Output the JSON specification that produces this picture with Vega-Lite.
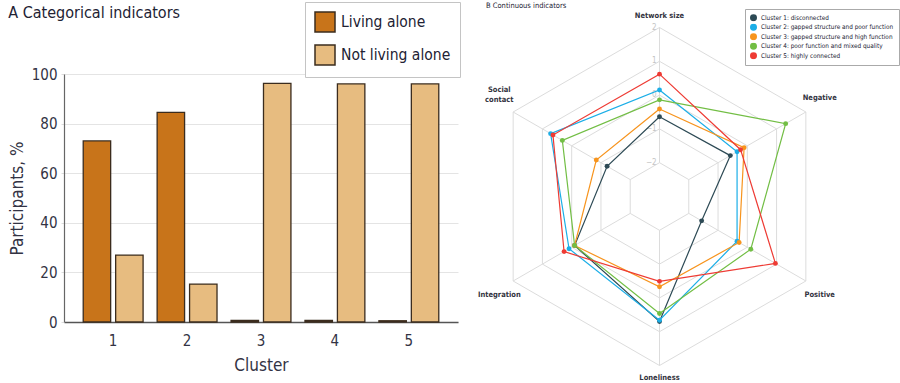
{
  "$schema": "https://vega.github.io/schema/vega-lite/v6.json",
  "background": "white",
  "padding": {"left": 8, "top": 1, "right": 0, "bottom": 0},
  "spacing": 12,
  "resolve": {"scale": {"color": "independent"}, "legend": {"color": "independent"}},
  "config": {
    "font": "DejaVu Sans Condensed, Roboto Condensed, Liberation Sans Narrow, Roboto, sans-serif",
    "view": {"stroke": null},
    "title": {"color": "#222233"}
  },
  "datasets": {
    "rings": [
      {"level": -2, "indicator": ["Network size", "Negative", "Positive", "Loneliness", "Integration", "Social contact"]},
      {"level": -1, "indicator": ["Network size", "Negative", "Positive", "Loneliness", "Integration", "Social contact"]},
      {"level": 0, "indicator": ["Network size", "Negative", "Positive", "Loneliness", "Integration", "Social contact"]},
      {"level": 1, "indicator": ["Network size", "Negative", "Positive", "Loneliness", "Integration", "Social contact"]},
      {"level": 2, "indicator": ["Network size", "Negative", "Positive", "Loneliness", "Integration", "Social contact"]}
    ],
    "axes": [
      {"indicator": "Network size", "label": "Network size"},
      {"indicator": "Negative", "label": "Negative"},
      {"indicator": "Positive", "label": "Positive"},
      {"indicator": "Loneliness", "label": "Loneliness"},
      {"indicator": "Integration", "label": "Integration"},
      {"indicator": "Social contact", "label": "Social\ncontact"}
    ],
    "radar": [
      {"cluster": "Cluster 1: disconnected", "indicator": "Network size", "value": -0.64},
      {"cluster": "Cluster 1: disconnected", "indicator": "Negative", "value": -0.58},
      {"cluster": "Cluster 1: disconnected", "indicator": "Positive", "value": -1.56},
      {"cluster": "Cluster 1: disconnected", "indicator": "Loneliness", "value": 0.7},
      {"cluster": "Cluster 1: disconnected", "indicator": "Integration", "value": -0.1},
      {"cluster": "Cluster 1: disconnected", "indicator": "Social contact", "value": -1.21},
      {"cluster": "Cluster 2: gapped structure and poor function", "indicator": "Network size", "value": 0.15},
      {"cluster": "Cluster 2: gapped structure and poor function", "indicator": "Negative", "value": -0.35},
      {"cluster": "Cluster 2: gapped structure and poor function", "indicator": "Positive", "value": -0.35},
      {"cluster": "Cluster 2: gapped structure and poor function", "indicator": "Loneliness", "value": 0.66},
      {"cluster": "Cluster 2: gapped structure and poor function", "indicator": "Integration", "value": 0.09},
      {"cluster": "Cluster 2: gapped structure and poor function", "indicator": "Social contact", "value": 0.72},
      {"cluster": "Cluster 3: gapped structure and high function", "indicator": "Network size", "value": -0.41},
      {"cluster": "Cluster 3: gapped structure and high function", "indicator": "Negative", "value": -0.11},
      {"cluster": "Cluster 3: gapped structure and high function", "indicator": "Positive", "value": -0.28},
      {"cluster": "Cluster 3: gapped structure and high function", "indicator": "Loneliness", "value": -0.33},
      {"cluster": "Cluster 3: gapped structure and high function", "indicator": "Integration", "value": -0.1},
      {"cluster": "Cluster 3: gapped structure and high function", "indicator": "Social contact", "value": -0.84},
      {"cluster": "Cluster 4: poor function and mixed quality", "indicator": "Network size", "value": -0.14},
      {"cluster": "Cluster 4: poor function and mixed quality", "indicator": "Negative", "value": 1.31},
      {"cluster": "Cluster 4: poor function and mixed quality", "indicator": "Positive", "value": 0.12},
      {"cluster": "Cluster 4: poor function and mixed quality", "indicator": "Loneliness", "value": 0.46},
      {"cluster": "Cluster 4: poor function and mixed quality", "indicator": "Integration", "value": -0.1},
      {"cluster": "Cluster 4: poor function and mixed quality", "indicator": "Social contact", "value": 0.32},
      {"cluster": "Cluster 5: highly connected", "indicator": "Network size", "value": 0.62},
      {"cluster": "Cluster 5: highly connected", "indicator": "Negative", "value": -0.23},
      {"cluster": "Cluster 5: highly connected", "indicator": "Positive", "value": 0.96},
      {"cluster": "Cluster 5: highly connected", "indicator": "Loneliness", "value": -0.49},
      {"cluster": "Cluster 5: highly connected", "indicator": "Integration", "value": 0.26},
      {"cluster": "Cluster 5: highly connected", "indicator": "Social contact", "value": 0.64}
    ]
  },
  "hconcat": [
    {
      "width": 394,
      "height": 248,
      "title": {"text": "A  Categorical indicators", "anchor": "start", "fontSize": 16, "fontWeight": "normal", "offset": -19},
      "data": {"values": [
        {"cluster": "1", "status": "Living alone", "pct": 73},
        {"cluster": "1", "status": "Not living alone", "pct": 27},
        {"cluster": "2", "status": "Living alone", "pct": 84.5},
        {"cluster": "2", "status": "Not living alone", "pct": 15.3},
        {"cluster": "3", "status": "Living alone", "pct": 0.6},
        {"cluster": "3", "status": "Not living alone", "pct": 96.2},
        {"cluster": "4", "status": "Living alone", "pct": 0.6},
        {"cluster": "4", "status": "Not living alone", "pct": 96},
        {"cluster": "5", "status": "Living alone", "pct": 0.5},
        {"cluster": "5", "status": "Not living alone", "pct": 96}
      ]},
      "mark": {"type": "bar", "stroke": "#3b2c1e", "strokeWidth": 1.3},
      "encoding": {
        "x": {
          "field": "cluster", "type": "ordinal",
          "scale": {"paddingInner": 0.19, "paddingOuter": 0.26},
          "axis": {"title": "Cluster", "labelAngle": 0, "labelFontSize": 15, "titleFontSize": 17, "titleFontWeight": "normal", "ticks": false, "labelPadding": 11, "domainColor": "#555555", "domainWidth": 1.3, "labelColor": "#333344", "titleColor": "#333344", "titlePadding": 9}
        },
        "xOffset": {"field": "status", "type": "nominal", "sort": ["Living alone", "Not living alone"], "scale": {"paddingInner": 0.154, "paddingOuter": 0}},
        "y": {
          "field": "pct", "type": "quantitative",
          "scale": {"domain": [0, 100], "nice": false},
          "axis": {"title": "Participants, %", "values": [0, 20, 40, 60, 80, 100], "labelFontSize": 15, "titleFontSize": 17, "titleFontWeight": "normal", "tickSize": 3, "tickColor": "#dddddd", "labelPadding": 4, "domainColor": "#666666", "domainWidth": 1.2, "gridColor": "#e4e4e4", "labelColor": "#333344", "titleColor": "#333344", "titlePadding": 5}
        },
        "color": {
          "field": "status", "type": "nominal",
          "scale": {"domain": ["Living alone", "Not living alone"], "range": ["#C8741A", "#E7BC80"]},
          "legend": {"orient": "none", "legendX": 241, "legendY": -72, "title": null, "symbolType": "square", "symbolSize": 400, "symbolStrokeColor": "#3b2c1e", "symbolStrokeWidth": 1.5, "labelFontSize": 15.5, "labelColor": "#222233", "strokeColor": "#c4c4c4", "padding": 9, "rowPadding": 7, "labelOffset": 5, "fillColor": "white", "labelLimit": 200}
        }
      }
    },
    {
      "width": 430,
      "height": 308,
      "title": {"text": "B  Continuous indicators", "anchor": "start", "fontSize": 7.5, "fontWeight": "normal", "offset": -1, "dx": 13},
      "layer": [
        {
          "data": {"name": "rings"},
          "transform": [
            {"flatten": ["indicator"]},
            {"calculate": "indexof(['Network size','Negative','Positive','Loneliness','Integration','Social contact'], datum.indicator)", "as": "k"},
            {"calculate": "datum.k * PI / 3", "as": "ang"},
            {"calculate": "(datum.level + 3) * 33.8", "as": "r"},
            {"calculate": "datum.r * sin(datum.ang)", "as": "px"},
            {"calculate": "datum.r * cos(datum.ang)", "as": "py"}
          ],
          "mark": {"type": "line", "interpolate": "linear-closed", "color": "#dcdcdc", "strokeWidth": 1},
          "encoding": {
            "x": {"field": "px", "type": "quantitative", "scale": {"domain": [-186.5, 243.5], "nice": false, "zero": false}, "axis": null},
            "y": {"field": "py", "type": "quantitative", "scale": {"domain": [-185.5, 122.5], "nice": false, "zero": false}, "axis": null},
            "detail": {"field": "level", "type": "nominal"},
            "order": {"field": "k", "type": "quantitative"}
          }
        },
        {
          "data": {"name": "axes"},
          "transform": [
            {"calculate": "indexof(['Network size','Negative','Positive','Loneliness','Integration','Social contact'], datum.indicator)", "as": "k"},
            {"calculate": "datum.k * PI / 3", "as": "ang"},
            {"calculate": "33.8 * sin(datum.ang)", "as": "px"},
            {"calculate": "33.8 * cos(datum.ang)", "as": "py"},
            {"calculate": "169 * sin(datum.ang)", "as": "px2"},
            {"calculate": "169 * cos(datum.ang)", "as": "py2"}
          ],
          "mark": {"type": "rule", "color": "#dcdcdc", "strokeWidth": 1},
          "encoding": {
            "x": {"field": "px", "type": "quantitative", "scale": {"domain": [-186.5, 243.5], "nice": false, "zero": false}, "axis": null},
            "y": {"field": "py", "type": "quantitative", "scale": {"domain": [-185.5, 122.5], "nice": false, "zero": false}, "axis": null},
            "x2": {"field": "px2"},
            "y2": {"field": "py2"}
          }
        },
        {
          "data": {"name": "rings"},
          "transform": [
            {"calculate": "(datum.level + 3) * 33.8", "as": "py"},
            {"calculate": "0", "as": "px"}
          ],
          "mark": {"type": "text", "align": "right", "baseline": "middle", "dx": -3, "fontSize": 8, "color": "#c4c4c4"},
          "encoding": {
            "x": {"field": "px", "type": "quantitative", "scale": {"domain": [-186.5, 243.5], "nice": false, "zero": false}, "axis": null},
            "y": {"field": "py", "type": "quantitative", "scale": {"domain": [-185.5, 122.5], "nice": false, "zero": false}, "axis": null},
            "text": {"field": "level", "type": "quantitative"}
          }
        },
        {
          "data": {"name": "radar"},
          "transform": [
            {"calculate": "indexof(['Network size','Negative','Positive','Loneliness','Integration','Social contact'], datum.indicator)", "as": "k"},
            {"calculate": "datum.k * PI / 3", "as": "ang"},
            {"calculate": "(datum.value + 3) * 33.8", "as": "r"},
            {"calculate": "datum.r * sin(datum.ang)", "as": "px"},
            {"calculate": "datum.r * cos(datum.ang)", "as": "py"}
          ],
          "mark": {"type": "line", "interpolate": "linear-closed", "strokeWidth": 1.2},
          "encoding": {
            "x": {"field": "px", "type": "quantitative", "scale": {"domain": [-186.5, 243.5], "nice": false, "zero": false}, "axis": null},
            "y": {"field": "py", "type": "quantitative", "scale": {"domain": [-185.5, 122.5], "nice": false, "zero": false}, "axis": null},
            "color": {
              "field": "cluster", "type": "nominal",
              "scale": {"range": ["#2D4A55", "#1BAEE7", "#F7941D", "#72BE44", "#EE3B34"]},
              "legend": {"orient": "none", "legendX": 272, "legendY": -65, "title": null, "symbolType": "circle", "symbolSize": 30, "labelFontSize": 6.4, "labelColor": "#222233", "strokeColor": "#aaaaaa", "padding": 5, "rowPadding": 1.5, "clipHeight": 7.5, "labelOffset": 4, "fillColor": "white", "labelLimit": 300}
            },
            "detail": {"field": "cluster", "type": "nominal"},
            "order": {"field": "k", "type": "quantitative"}
          }
        },
        {
          "data": {"name": "radar"},
          "transform": [
            {"calculate": "indexof(['Network size','Negative','Positive','Loneliness','Integration','Social contact'], datum.indicator)", "as": "k"},
            {"calculate": "datum.k * PI / 3", "as": "ang"},
            {"calculate": "(datum.value + 3) * 33.8", "as": "r"},
            {"calculate": "datum.r * sin(datum.ang)", "as": "px"},
            {"calculate": "datum.r * cos(datum.ang)", "as": "py"}
          ],
          "mark": {"type": "point", "filled": true, "size": 24, "opacity": 1},
          "encoding": {
            "x": {"field": "px", "type": "quantitative", "scale": {"domain": [-186.5, 243.5], "nice": false, "zero": false}, "axis": null},
            "y": {"field": "py", "type": "quantitative", "scale": {"domain": [-185.5, 122.5], "nice": false, "zero": false}, "axis": null},
            "color": {"field": "cluster", "type": "nominal", "scale": {"range": ["#2D4A55", "#1BAEE7", "#F7941D", "#72BE44", "#EE3B34"]}, "legend": null}
          }
        },
        {
          "data": {"name": "axes"},
          "transform": [
            {"calculate": "indexof(['Network size','Negative','Positive','Loneliness','Integration','Social contact'], datum.indicator)", "as": "k"},
            {"calculate": "datum.k * PI / 3", "as": "ang"},
            {"calculate": "185 * sin(datum.ang)", "as": "px"},
            {"calculate": "(181 + 18 * abs(sin(datum.ang))) * cos(datum.ang) + (datum.indicator == 'Social contact' ? 8 : 0)", "as": "py"}
          ],
          "mark": {"type": "text", "align": "center", "baseline": "middle", "fontSize": 7.5, "fontWeight": "bold", "color": "#333340", "lineBreak": "\n", "lineHeight": 10},
          "encoding": {
            "x": {"field": "px", "type": "quantitative", "scale": {"domain": [-186.5, 243.5], "nice": false, "zero": false}, "axis": null},
            "y": {"field": "py", "type": "quantitative", "scale": {"domain": [-185.5, 122.5], "nice": false, "zero": false}, "axis": null},
            "text": {"field": "label", "type": "nominal"}
          }
        }
      ]
    }
  ]
}
